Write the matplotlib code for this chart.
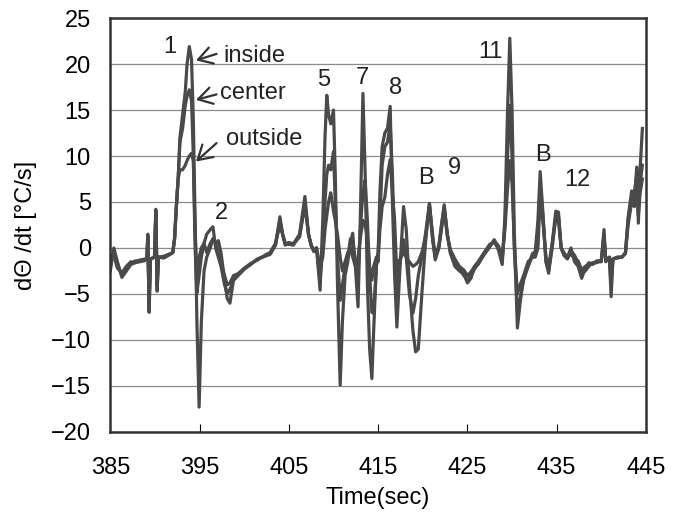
#!/usr/bin/env python3
"""Rate of temperature change (dTheta/dt) at three positions over time."""

import matplotlib
matplotlib.use("Agg")
import matplotlib.pyplot as plt

# time (s) and dTheta/dt (degC/s) for inside / center / outside
t = [
    385.0, 385.4, 385.8, 386.3, 386.8, 387.3, 387.8, 388.3, 388.8, 389.1,
    389.2, 389.35, 389.5, 389.95, 390.1, 390.25, 390.4, 391.0, 391.5, 392.0,
    392.2, 392.4, 392.6, 392.8, 393.1, 393.4, 393.6, 393.85, 394.1, 394.3,
    394.5, 394.7, 394.95, 395.2, 395.5, 395.8, 396.2, 396.5, 396.8, 397.1,
    397.4, 397.8, 398.1, 398.4, 398.8, 399.3, 400.0, 400.7, 401.5, 402.3,
    402.9, 403.5, 404.0, 404.3, 404.6, 405.0, 405.5, 406.2, 406.8, 407.2,
    407.5, 407.8, 408.1, 408.5, 408.8, 409.05, 409.25, 409.45, 409.7, 410.0,
    410.2, 410.45, 410.75, 411.0, 411.3, 411.6, 411.9, 412.15, 412.45, 412.75,
    413.0, 413.3, 413.55, 413.8, 414.05, 414.3, 414.5, 414.8, 415.0, 415.2,
    415.45, 415.75, 416.05, 416.35, 416.6, 416.85, 417.1, 417.4, 417.85, 418.15,
    418.5, 418.9, 419.2, 419.5, 419.9, 420.3, 420.75, 421.1, 421.4, 421.8,
    422.1, 422.4, 422.75, 423.1, 423.6, 424.1, 424.6, 425.0, 425.4, 425.8,
    426.2, 426.8, 427.5, 428.0, 428.5, 428.9, 429.2, 429.5, 429.75, 430.0,
    430.25, 430.6, 430.9, 431.3, 431.8, 432.3, 432.6, 432.9, 433.15, 433.45,
    433.8, 434.1, 434.5, 434.9, 435.2, 435.5, 435.8, 436.2, 436.6, 437.0,
    437.4, 437.8, 438.2, 438.6, 439.0, 439.5, 440.0, 440.3, 440.5, 440.9,
    441.1, 441.3, 441.8, 442.3, 442.7, 443.0, 443.4, 443.7, 443.97, 444.15,
    444.35, 444.6,
]
inside = [
    -2.5, 0.0, -1.5, -3.2, -2.5, -1.8, -1.6, -1.5, -1.4, -1.2,
    1.5, -7.0, -1.2, -1.0, 4.2, -4.7, -1.0, -1.0, -0.8, -0.5,
    1.0, 4.5, 7.5, 12.0, 14.5, 17.0, 20.0, 21.9, 20.5, 14.0,
    3.0, -8.0, -17.3, -8.0, -2.5, -1.0, 0.0, 1.0, 0.5, 0.8,
    -0.5, -3.5, -5.5, -6.0, -3.5, -3.0, -2.3, -1.8, -1.2, -0.9,
    -0.7, 0.3, 3.4, 1.5, 0.3, 0.6, 0.4, 1.5, 5.6, 1.5,
    0.3, -0.4, 0.0, -4.6, 3.0, 12.0, 16.6, 14.5, 13.5, 15.0,
    8.0, -4.0, -14.9, -8.0, -3.0, -1.5, 0.5, 1.6, -2.0, -6.4,
    3.0, 16.8, 8.0, -4.0, -11.0, -14.2, -9.0, -2.0, -0.6, 6.0,
    11.0, 12.5, 13.0, 15.4, 5.0, -3.0, -8.6, -3.0, 4.5, 2.0,
    -4.0, -9.0, -11.3, -11.0, -5.0, 0.5, 4.85, 1.0, -1.3, 0.0,
    2.5, 4.7, 1.5, -0.6, -2.0, -2.5, -2.8, -3.8, -3.3, -2.0,
    -1.8, -0.8, 0.1, 0.9, -0.3, -1.8, 3.3, 15.0, 22.8, 15.0,
    2.0, -8.7, -6.0, -3.1, -2.0, -0.6, -0.4, 3.0, 8.3, 4.0,
    -1.5, -2.75, 0.5, 4.0, 3.9, 0.0, -0.6, -1.0, 0.0, -1.5,
    -2.0, -3.3, -2.2, -1.6, -1.8, -1.5, -1.5, 2.0, -1.5, -1.0,
    -5.3, -1.2, -1.0, -1.0, -0.6, 3.3, 6.2, 5.0, 8.8, 2.7,
    8.7, 13.0,
]
center = [
    -2.0, -0.3, -1.8, -3.0, -2.3, -1.7, -1.4, -1.4, -1.2, -1.2,
    1.3, -6.5, -1.2, -1.0, 4.0, -4.3, -1.0, -0.9, -0.7, -0.5,
    1.0, 4.5, 7.5, 11.5, 13.0, 15.5, 16.5, 17.2, 16.0, 10.0,
    0.0, -4.9, -3.0, -1.0, 0.5, 1.5, 2.0, 2.3, 0.0, -1.0,
    -2.0, -4.0, -5.0, -4.5, -3.5, -3.0, -2.3, -1.8, -1.2, -0.9,
    -0.6, 0.3, 3.0, 1.5, 0.5, 0.5, 0.5, 1.2, 5.0, 1.5,
    0.3, -0.3, 0.0, -3.5, 0.0, 5.0, 8.0, 9.0, 8.5, 10.5,
    5.0, -1.0, -5.7, -4.0, -2.0, -1.0, 1.0, 0.5, -1.5, -3.0,
    2.0, 6.0, 7.4, 3.0, -3.0, -7.0, -7.1, -2.0, -0.5, 3.0,
    9.0, 11.0, 11.5, 13.5, 8.0, 0.0, -5.0, -2.0, 0.9, -1.0,
    -5.0, -7.1, -5.5, -3.0, -1.0, 1.5, 4.8, 1.0, -1.0, 0.3,
    2.5, 4.5, 1.5, -0.5, -1.6, -2.3, -3.0, -3.5, -3.0, -2.3,
    -1.7, -0.8, 0.2, 0.8, 0.2, -1.3, 2.5, 10.0, 15.5, 10.0,
    0.0, -6.9, -5.5, -3.5, -2.0, -0.8, -0.5, 1.5, 7.0, 3.5,
    -1.5, -2.5, 0.0, 3.5, 3.5, 0.0, -0.8, -1.2, -0.3, -0.8,
    -1.6, -2.8, -2.5, -2.0, -1.6, -1.6, -1.3, 1.5, -1.4, -1.2,
    -4.0, -1.2, -1.1, -1.0, -0.5, 3.0, 5.5, 6.0, 8.0, 4.0,
    7.0, 9.0,
]
outside = [
    -1.5, -0.8, -2.2, -2.7, -2.0, -1.5, -1.6, -1.3, -1.3, -1.2,
    1.2, -6.0, -1.2, -1.0, 3.8, -4.0, -1.0, -1.1, -0.8, -0.5,
    1.0, 4.5, 7.5, 8.5, 8.5, 9.0, 9.5, 10.0, 10.3, 9.5,
    2.0, -3.0, -1.0, 0.0, 0.5, -0.5, 0.5, 1.0, 0.5, -0.5,
    -1.5, -3.0, -4.0, -3.8, -3.0, -2.8, -2.2, -1.7, -1.3, -0.8,
    -0.5, 0.5, 2.5, 1.5, 0.4, 0.4, 0.3, 1.3, 4.6, 1.5,
    0.3, -0.3, 0.0, -2.0, -1.0, 2.0, 3.5, 5.0, 6.0, 4.0,
    3.0, 1.5, -1.0, -2.5, -1.5, -0.5, 0.0, -1.0, -2.0, -1.0,
    1.0, 3.0, 2.5, 1.0, -2.0, -3.5, -2.0, -1.0, -1.5, 2.0,
    4.5, 5.5, 8.0, 9.6, 6.0, 3.0, -3.0, -1.3, -0.5, -1.0,
    -1.5, -2.0, -1.8, -1.5, -0.5, 1.0, 4.6, 1.5, -1.0, 0.0,
    2.0, 4.2, 1.3, -0.2, -1.2, -2.0, -2.4, -3.0, -2.6, -2.0,
    -1.5, -0.6, 0.4, 0.6, 0.0, -1.0, 2.0, 6.5, 9.5, 7.0,
    0.5, -5.0, -4.0, -3.0, -1.5, -1.0, -1.0, 0.0, 5.5, 3.0,
    -1.0, -2.0, 0.5, 3.2, 3.0, 0.0, -0.5, -1.1, -0.6, -1.2,
    -1.4, -2.4, -2.0, -1.8, -1.7, -1.4, -1.4, 1.0, -1.3, -1.0,
    -3.0, -1.2, -1.0, -1.0, -0.6, 2.5, 5.0, 4.5, 7.0, 3.5,
    6.0, 7.5,
]

# peak labels as drawn on the chart
peak_labels = ["1", "2", "5", "7", "8", "B", "9", "11", "B", "12"]
peak_x = [391.7, 397.5, 408.9, 413.2, 416.9, 420.3, 423.6, 427.55, 433.5, 437.3]
peak_y = [21.8, 3.8, 18.3, 18.5, 17.4, 7.6, 8.7, 21.3, 10.1, 7.4]

series_names = ["inside", "center", "outside"]
name_xy = [(397.7, 20.9), (397.3, 16.9), (398.0, 11.9)]
arrow_tip = [(394.6, 20.4), (394.6, 16.1), (394.6, 9.4)]
arrow_tail = [(396.9, 21.1), (396.9, 16.7), (396.9, 11.4)]

LINE_COLOR = "#4a4a4a"
FS = 17

plt.rcParams["font.family"] = ["Liberation Sans", "DejaVu Sans"]

fig = plt.figure(figsize=(6.85, 5.16), dpi=100)
ax = fig.add_axes([0.161, 0.163, 0.782, 0.802])

for series in (outside, center, inside):
    ax.plot(t, series, color=LINE_COLOR, lw=2.3, solid_joinstyle="round")

ax.set_xlim(385, 445)
ax.set_ylim(-20, 25)
ax.set_xticks(range(385, 446, 10))
ax.set_yticks(range(-20, 26, 5))
ax.yaxis.grid(True, color="#8c8c8c", lw=0.9)
ax.set_axisbelow(True)

for side in ax.spines.values():
    side.set_color("#333333")
    side.set_linewidth(1.8)

ax.tick_params(axis="x", direction="in", length=6, width=0.8, pad=18, labelsize=FS)
ax.tick_params(axis="y", length=0, pad=14, labelsize=FS)
ax.set_xlabel("Time(sec)", fontsize=FS, labelpad=6)
ax.set_ylabel("dΘ /dt [°C/s]", fontsize=FS, labelpad=10)

for lbl, x, y in zip(peak_labels, peak_x, peak_y):
    ax.text(x, y, lbl, fontsize=FS, ha="center", va="center", color="#222222")

for name, (tx, ty), tip, tail in zip(series_names, name_xy, arrow_tip, arrow_tail):
    ax.text(tx, ty, name, fontsize=FS, ha="left", va="center", color="#222222")
    ax.annotate("", xy=tip, xytext=tail,
                arrowprops=dict(arrowstyle="->,head_length=0.5,head_width=0.3",
                                color="#333333", lw=1.6, mutation_scale=20,
                                shrinkA=0, shrinkB=0))

fig.savefig("out.png", dpi=100)
